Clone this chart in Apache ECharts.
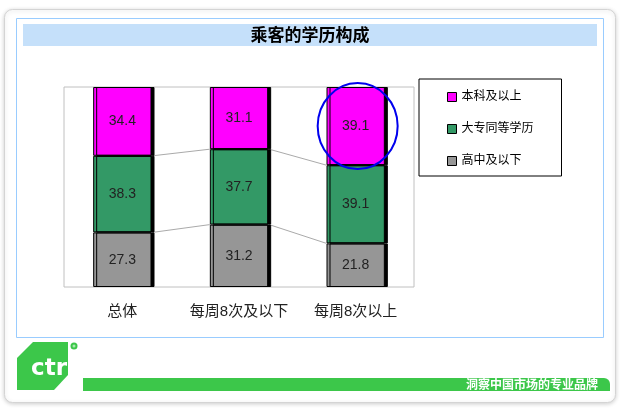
<!DOCTYPE html>
<html><head><meta charset="utf-8">
<script src="https://cdn.jsdelivr.net/npm/echarts@6/dist/echarts.min.js"></script>
<style>html,body{margin:0;padding:0;background:#fff}#c{width:624px;height:410px}</style>
</head><body><div id="c"></div>
<script>
var titleText = '乘客的学历构成';
var categories = ['总体', '每周8次及以下', '每周8次以上'];
var seriesNames = ['高中及以下', '大专同等学历', '本科及以上'];
var highSchool = [27.3, 31.2, 21.8];
var college = [38.3, 37.7, 39.1];
var bachelor = [34.4, 31.1, 39.1];
var colors = ['#969696', '#339966', '#ff00ff'];
var highlightIndex = 2;
var sloganText = '洞察中国市场的专业品牌';

var values = [highSchool, college, bachelor];
var connectors = [];
for (var i = 0; i < categories.length - 1; i++) {
  var c1 = 0, c2 = 0;
  for (var s = 0; s < values.length - 1; s++) {
    c1 += values[s][i]; c2 += values[s][i + 1];
    connectors.push([i, c1, c2]);
  }
}
var hlMid = highSchool[highlightIndex] + college[highlightIndex] + bachelor[highlightIndex] / 2;

var chart = echarts.init(document.getElementById('c'), null, {renderer: 'canvas'});
var font = '"Liberation Sans", Arial, "Noto Sans CJK SC", sans-serif';
var barSeries = seriesNames.map(function (n, k) {
  return {
    name: n, type: 'bar', stack: 'a', barWidth: '50%',
    data: values[k],
    itemStyle: {color: colors[k], borderColor: '#000', borderWidth: 1,
      shadowColor: '#000', shadowBlur: 0, shadowOffsetX: 3, shadowOffsetY: 0},
    label: {show: true, position: 'inside', fontSize: 14, color: '#222', fontFamily: font,
      formatter: function (p) { return p.value.toFixed(1); }},
    emphasis: {disabled: true}, silent: true
  };
});

chart.setOption({
  animation: false,
  backgroundColor: '#fff',
  textStyle: {fontFamily: font},
  grid: {left: 64, top: 87, width: 350, height: 200, show: true, borderColor: '#c0c0c0', borderWidth: 1, backgroundColor: 'transparent'},
  xAxis: {type: 'category', data: categories, axisLine: {show: false}, axisTick: {show: false},
    axisLabel: {fontSize: 15, color: '#222', margin: 17, interval: 0, fontFamily: font}},
  yAxis: {type: 'value', min: 0, max: 100, show: false, splitLine: {show: false}},
  legend: {
    data: ['本科及以上', '大专同等学历', '高中及以下'],
    orient: 'vertical', left: 419, top: 79,
    itemWidth: 9, itemHeight: 9, itemGap: 20, icon: 'rect',
    padding: [12, 28, 9, 28],
    borderColor: '#000', borderWidth: 1, backgroundColor: '#fff',
    textStyle: {fontSize: 12, color: '#000', fontFamily: font},
    itemStyle: {borderColor: '#000', borderWidth: 1, shadowBlur: 0, shadowOffsetX: 0, shadowColor: 'transparent'}
  },
  series: barSeries.concat([
    {
      type: 'custom', silent: true, z: 1,
      data: connectors,
      encode: {x: 0, y: 1},
      renderItem: function (params, api) {
        var i = api.value(0);
        var half = api.size([1, 0])[0] * 0.25;
        var p1 = api.coord([i, api.value(1)]);
        var p2 = api.coord([i + 1, api.value(2)]);
        return {type: 'line', shape: {x1: p1[0] + half + 1, y1: p1[1], x2: p2[0] - half, y2: p2[1]},
          style: {stroke: '#aaaaaa', lineWidth: 1}};
      }
    },
    {
      type: 'custom', silent: true, z: 10,
      data: [[highlightIndex, hlMid]],
      encode: {x: 0, y: 1},
      renderItem: function (params, api) {
        var p = api.coord([api.value(0), api.value(1)]);
        return {type: 'ellipse', shape: {cx: p[0] + 2, cy: p[1], rx: 40, ry: 43},
          style: {fill: 'none', stroke: '#0000ee', lineWidth: 2}};
      }
    }
  ]),
  graphic: [
    {type: 'rect', z: -10, shape: {x: 4.5, y: 9.5, width: 611, height: 393, r: 8},
      style: {fill: '#fff', stroke: '#d4d4d4', lineWidth: 1, shadowBlur: 4, shadowColor: 'rgba(0,0,0,0.18)', shadowOffsetY: 1}},
    {type: 'rect', z: -9, shape: {x: 16.5, y: 18.5, width: 587, height: 319},
      style: {fill: 'none', stroke: '#99ccff', lineWidth: 1}},
    {type: 'rect', z: -8, shape: {x: 23, y: 24, width: 574, height: 22},
      style: {fill: '#c5e0fa'}},
    {type: 'text', z: 5, x: 310, y: 35, style: {text: titleText, fontSize: 17, fontWeight: 'bold',
      fill: '#000', align: 'center', verticalAlign: 'middle', fontFamily: '"Noto Sans CJK SC", sans-serif'}},
    {type: 'polygon', shape: {points: [[17, 358], [33, 342], [68, 342], [68, 375], [54, 390], [17, 390]]},
      style: {fill: '#3cc74a'}},
    {type: 'text', x: 31, y: 369, style: {text: 'ctr', fontSize: 23, fill: '#fff', verticalAlign: 'middle',
      fontWeight: 'bold', fontFamily: '"DejaVu Sans", sans-serif'}},
    {type: 'circle', shape: {cx: 74, cy: 346, r: 3.5}, style: {fill: '#3cc74a'}},
    {type: 'circle', shape: {cx: 74, cy: 346, r: 1.5}, style: {fill: '#a8e8ae'}},
    {type: 'rect', shape: {x: 83, y: 378, width: 527, height: 13, r: [0, 6, 0, 0]}, style: {fill: '#3cc74a'}},
    {type: 'text', x: 598, y: 384.5, style: {text: sloganText, fontSize: 12, fill: '#fff', align: 'right',
      verticalAlign: 'middle', fontFamily: '"Noto Sans CJK SC", sans-serif', fontWeight: 'bold'}}
  ]
});
</script></body></html>
